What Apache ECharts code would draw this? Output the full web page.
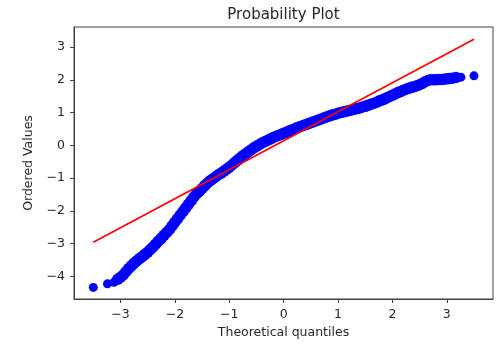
<!DOCTYPE html>
<html>
<head>
<meta charset="utf-8">
<script src="https://cdn.jsdelivr.net/npm/echarts@6/dist/echarts.min.js"></script>
<style>html,body{margin:0;padding:0;background:#fff;}#c{width:503px;height:353px;}</style>
</head>
<body>
<div id="c"></div>
<script>
// Theoretical quantiles (x) and ordered values (y)
var qx = [-3.50,-3.24,-3.12,-3.05,-3.00,-2.95,-2.90,-2.85,-2.80,-2.75,-2.70,-2.65,-2.60,-2.55,-2.50,
  -2.45,-2.40,-2.35,-2.30,-2.25,-2.20,-2.15,-2.10,-2.05,-2.00,-1.95,-1.90,-1.85,-1.80,-1.75,-1.70,
  -1.65,-1.60,-1.55,-1.50,-1.45,-1.40,-1.35,-1.30,-1.25,-1.20,-1.15,-1.10,-1.05,-1.00,-0.95,-0.90,
  -0.85,-0.80,-0.75,-0.70,-0.65,-0.60,-0.55,-0.50,-0.45,-0.40,-0.35,-0.30,-0.25,-0.20,-0.15,-0.10,
  -0.05,0.00,0.05,0.10,0.15,0.20,0.25,0.30,0.35,0.40,0.45,0.50,0.55,0.60,0.65,0.70,0.75,0.80,0.85,
  0.90,0.95,1.00,1.05,1.10,1.15,1.20,1.25,1.30,1.35,1.40,1.45,1.50,1.55,1.60,1.65,1.70,1.75,1.80,
  1.85,1.90,1.95,2.00,2.05,2.10,2.15,2.20,2.25,2.30,2.35,2.40,2.45,2.50,2.55,2.60,2.65,2.70,2.75,
  2.80,2.85,2.90,2.95,3.00,3.05,3.10,3.17,3.26,3.50];
var qy = [-4.34,-4.23,-4.18,-4.09,-4.03,-3.96,-3.86,-3.76,-3.68,-3.60,-3.53,-3.46,-3.40,-3.33,-3.26,
  -3.18,-3.10,-3.01,-2.92,-2.84,-2.75,-2.66,-2.57,-2.46,-2.35,-2.24,-2.13,-2.02,-1.91,-1.80,-1.69,
  -1.58,-1.48,-1.40,-1.32,-1.23,-1.15,-1.08,-1.02,-0.96,-0.90,-0.85,-0.79,-0.73,-0.67,-0.60,-0.53,
  -0.46,-0.39,-0.32,-0.26,-0.20,-0.14,-0.08,-0.03,0.02,0.07,0.11,0.15,0.19,0.23,0.27,0.30,
  0.33,0.37,0.40,0.44,0.47,0.50,0.54,0.57,0.60,0.63,0.66,0.69,0.72,0.75,0.78,0.81,0.84,0.87,0.90,
  0.93,0.95,0.98,1.00,1.02,1.04,1.06,1.08,1.10,1.12,1.14,1.17,1.19,1.22,1.25,1.28,1.31,1.35,1.38,
  1.41,1.45,1.49,1.53,1.57,1.61,1.64,1.68,1.71,1.74,1.77,1.79,1.82,1.85,1.89,1.94,1.98,2.00,2.00,
  2.00,2.01,2.01,2.02,2.03,2.04,2.05,2.07,2.08,2.12];
// Least-squares fit line end points
var lineX = [-3.50, 3.50];
var lineY = [-2.96, 3.24];
// Tick labels
var xTicks = [-3, -2, -1, 0, 1, 2, 3];
var yTicks = [-4, -3, -2, -1, 0, 1, 2, 3];

var pts = qx.map(function (x, i) { return [x, qy[i]]; });
var linePts = lineX.map(function (x, i) { return [x, lineY[i]]; });
var fmt = function (v) { return String(v).replace('-', '\u2212'); };
var FONT = 'DejaVu Sans';
var TXT = '#262626';
var N = pts.length;
var chart = echarts.init(document.getElementById('c'), null, {renderer: 'canvas'});
chart.setOption({
  animation: false,
  title: {
    text: 'Probability Plot', left: 283.5, top: 8, textAlign: 'center', padding: 0,
    textStyle: {fontFamily: FONT, fontSize: 15, fontWeight: 'normal', color: TXT}
  },
  grid: {left: 74, right: 10, top: 27, bottom: 54, show: true, borderColor: '#404040', borderWidth: 1, backgroundColor: 'transparent'},
  xAxis: {
    type: 'value', min: -3.855, max: 3.85,
    name: 'Theoretical quantiles', nameLocation: 'middle', nameGap: 26,
    nameTextStyle: {fontFamily: FONT, fontSize: 12.5, color: TXT},
    axisLine: {show: true, onZero: false, lineStyle: {color: '#404040', width: 1}},
    axisTick: {show: true, length: 4, customValues: xTicks, lineStyle: {color: '#404040'}},
    axisLabel: {customValues: xTicks, formatter: fmt, margin: 9, fontFamily: FONT, fontSize: 12.5, color: TXT},
    splitLine: {show: false}
  },
  yAxis: {
    type: 'value', min: -4.693, max: 3.612,
    name: 'Ordered Values', nameLocation: 'middle', nameGap: 37,
    nameTextStyle: {fontFamily: FONT, fontSize: 12.5, color: TXT},
    axisLine: {show: true, onZero: false, lineStyle: {color: '#404040', width: 1}},
    axisTick: {show: true, length: 4, customValues: yTicks, lineStyle: {color: '#404040'}},
    axisLabel: {customValues: yTicks, formatter: fmt, margin: 9, fontFamily: FONT, fontSize: 12.5, color: TXT},
    splitLine: {show: false}
  },
  series: [
    {type: 'scatter', data: pts, symbol: 'circle',
     symbolSize: function (v, p) { return (p.dataIndex < 3 || p.dataIndex > N - 3) ? 9 : 11.5; },
     itemStyle: {color: '#0000ff', opacity: 1}, z: 2},
    {type: 'line', data: linePts, showSymbol: false, symbol: 'none', lineStyle: {color: '#ff0000', width: 1.8}, z: 3}
  ]
});
</script>
</body>
</html>
